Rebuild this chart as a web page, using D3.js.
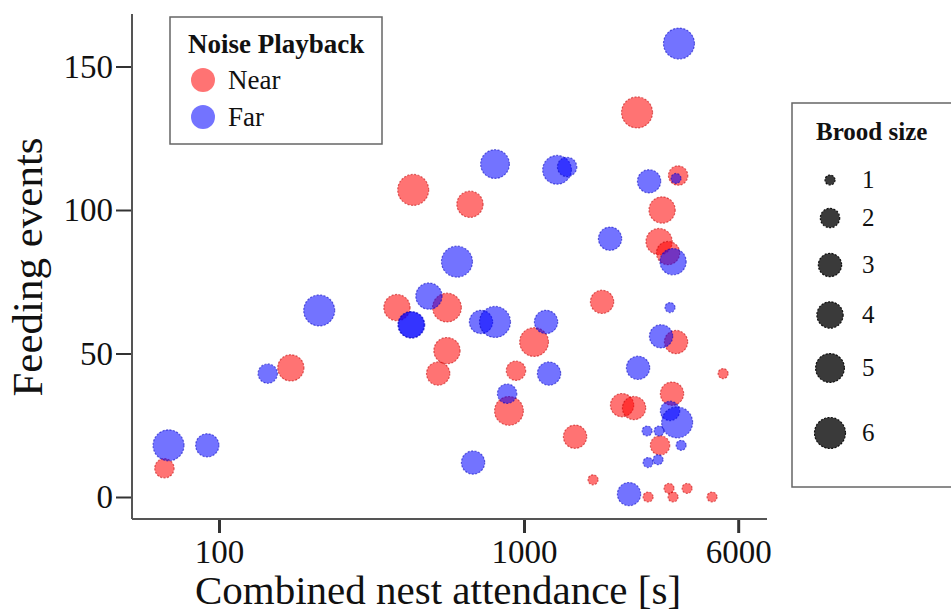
<!DOCTYPE html>
<html>
<head>
<meta charset="utf-8">
<script src="https://cdn.jsdelivr.net/npm/d3@7"></script>
<style>
  body { margin: 0; background: #fff; }
  svg text { font-family: "Liberation Serif", "Times New Roman", serif; fill: #111; }
</style>
</head>
<body>
<svg id="chart" width="951" height="613"></svg>
<script>
// data: attendance [s], feeding events, brood size
var nearAttendance = [68, 168, 371, 420, 545, 545, 509, 652, 2523, 3571, 3116, 3038, 3278, 1084, 938, 887, 1511, 1886, 3508, 5260, 2227, 2461, 3390, 3063, 1751, 2769, 3305, 3420, 3855, 4779];
var nearFeeding    = [10, 45, 66, 107, 66, 51, 43, 102, 134, 112, 100, 89, 85, 54, 44, 30, 21, 68, 54, 43, 32, 31, 36, 18, 6, 0, 3, 0, 3, 0];
var nearBrood      = [2, 4, 4, 6, 5, 4, 3, 4, 6, 2, 4, 4, 3, 5, 2, 5, 3, 3, 3, 1, 3, 3, 3, 2, 1, 1, 1, 1, 1, 1];

var farAttendance = [70, 92, 142, 207, 474, 413, 415, 589, 794, 1305, 1416, 3597, 2792, 3508, 2015, 3420, 711, 794, 1194, 1223, 874, 668, 3333, 3089, 2545, 3333, 3540, 2746, 3038, 3664, 2769, 3012, 2360];
var farFeeding    = [18, 18, 43, 65, 70, 60, 60, 82, 116, 114, 115, 158, 110, 111, 90, 82, 61, 61, 61, 43, 36, 12, 66, 56, 45, 30, 26, 23, 23, 18, 12, 13, 1];
var farBrood      = [6, 3, 2, 6, 4, 4, 4, 6, 5, 5, 2, 6, 3, 1, 3, 4, 3, 6, 3, 3, 2, 3, 1, 3, 3, 2, 6, 1, 1, 1, 1, 1, 3];

var xTicks = [100, 1000, 6000];
var yTicks = [0, 50, 100, 150];
var broodLevels = [1, 2, 3, 4, 5, 6];
var groups = ["Near", "Far"];

var colors = { Near: "rgba(255,0,0,0.55)", Far: "rgba(0,0,255,0.55)" };
var strokes = { Near: "rgba(190,0,0,0.55)", Far: "rgba(0,0,190,0.55)" };

var svg = d3.select("#chart");

// the original axis is a compressed log-like transform
var x = d3.scalePow().exponent(-0.05).domain([100, 1000]).range([219, 524]);
var y = d3.scaleLinear().domain([0, 150]).range([497, 66.5]);
var r = d3.scaleSqrt().domain([0, 5]).range([5, 15.5]);

var plotLeft = 132, plotRight = 767, plotTop = 14, plotBottom = 519;

// points
var pts = [];
nearAttendance.forEach(function(v, i) { pts.push({g: "Near", x: v, y: nearFeeding[i], b: nearBrood[i]}); });
farAttendance.forEach(function(v, i) { pts.push({g: "Far", x: v, y: farFeeding[i], b: farBrood[i]}); });

svg.append("g").selectAll("circle")
  .data(pts)
  .enter()
  .append("circle")
  .attr("cx", function(d) { return x(d.x); })
  .attr("cy", function(d) { return y(d.y); })
  .attr("r", function(d) { return r(d.b - 1); })
  .attr("fill", function(d) { return colors[d.g]; })
  .attr("stroke", function(d) { return strokes[d.g]; })
  .attr("stroke-width", 1.2)
  .attr("stroke-dasharray", "2,1.5");

// axes
var yAxis = svg.append("g")
  .attr("transform", "translate(" + plotLeft + ",0)")
  .call(d3.axisLeft(y).tickValues(yTicks).tickSize(16).tickPadding(3));
var xAxis = svg.append("g")
  .attr("transform", "translate(0," + plotBottom + ")")
  .call(d3.axisBottom(x).tickValues(xTicks).tickSize(14).tickPadding(7).tickFormat(d3.format("d")));

[yAxis, xAxis].forEach(function(a) {
  a.select(".domain").remove();
  a.selectAll(".tick line").attr("stroke", "#333").attr("stroke-width", 2);
  a.selectAll(".tick text").style("font-family", "Liberation Serif, serif").style("font-size", "33px").attr("fill", "#111");
});
xAxis.selectAll(".tick line").attr("stroke-width", 3);

svg.append("line").attr("x1", plotLeft).attr("x2", plotLeft).attr("y1", plotTop).attr("y2", plotBottom)
  .attr("stroke", "#555").attr("stroke-width", 2);
svg.append("line").attr("x1", plotLeft).attr("x2", plotRight).attr("y1", plotBottom).attr("y2", plotBottom)
  .attr("stroke", "#555").attr("stroke-width", 2);

// axis titles
svg.append("text")
  .attr("x", 438).attr("y", 604)
  .attr("text-anchor", "middle")
  .style("font-size", "41px")
  .text("Combined nest attendance [s]");
svg.append("text")
  .attr("transform", "translate(42,267) rotate(-90)")
  .attr("text-anchor", "middle")
  .style("font-size", "43px")
  .text("Feeding events");

// legend: noise playback
var leg1 = svg.append("g");
leg1.append("rect").attr("x", 170).attr("y", 17).attr("width", 212).attr("height", 127)
  .attr("fill", "#fff").attr("stroke", "#666").attr("stroke-width", 1.5);
leg1.append("text").attr("x", 188).attr("y", 53)
  .style("font-size", "27px").style("font-weight", "bold").text("Noise Playback");
groups.forEach(function(g, i) {
  leg1.append("circle").attr("cx", 203).attr("cy", 80 + i * 37).attr("r", 12).attr("fill", colors[g]);
  leg1.append("text").attr("x", 228).attr("y", 89 + i * 37).style("font-size", "27px").text(g);
});

// legend: brood size
var leg2 = svg.append("g");
var broodY = [180, 218, 265, 315, 368, 433];
leg2.append("rect").attr("x", 792).attr("y", 103).attr("width", 180).attr("height", 384)
  .attr("fill", "#fff").attr("stroke", "#666").attr("stroke-width", 1.5);
leg2.append("text").attr("x", 816).attr("y", 140)
  .style("font-size", "25px").style("font-weight", "bold").text("Brood size");
broodLevels.forEach(function(b, i) {
  leg2.append("circle").attr("cx", 830).attr("cy", broodY[i]).attr("r", r(b - 1))
    .attr("fill", "#3a3a3a").attr("stroke", "#111").attr("stroke-width", 1.2).attr("stroke-dasharray", "2,1.5");
  leg2.append("text").attr("x", 862).attr("y", broodY[i] + 8).style("font-size", "25px").text(b);
});
</script>
</body>
</html>
